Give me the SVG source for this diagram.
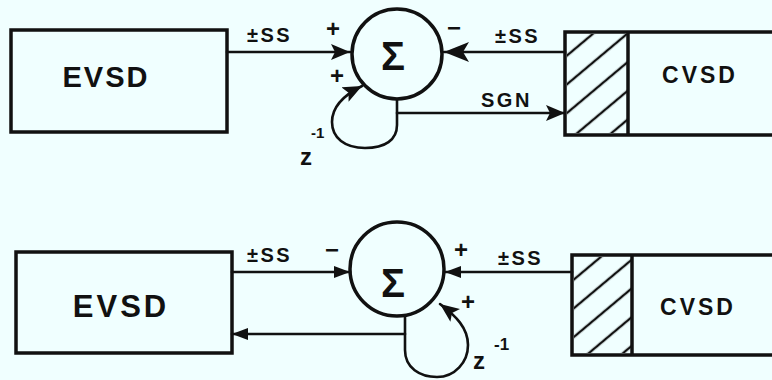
<svg xmlns="http://www.w3.org/2000/svg" width="772" height="380" viewBox="0 0 772 380">
<style>
.box{fill:none;stroke:#111;stroke-width:3.5}
.sum{fill:none;stroke:#111;stroke-width:3.5}
.wire{fill:none;stroke:#111;stroke-width:2.6;stroke-linecap:round}
.big{font-family:"Liberation Sans",Arial,sans-serif;font-weight:bold;fill:#111}
.lbl{font-family:"Liberation Sans",Arial,sans-serif;font-weight:bold;fill:#111;font-size:20px;letter-spacing:2.5px}
.sig{font-family:"Liberation Sans",Arial,sans-serif;font-weight:bold;fill:#111;font-size:24px}
.hatch{fill:url(#hatch)}
</style>
<defs>
<pattern id="hatch" patternUnits="userSpaceOnUse" width="22" height="22" patternTransform="rotate(-40)">
<line x1="0" y1="11" x2="22" y2="11" stroke="#111" stroke-width="2.4"/>
</pattern>
<marker id="ahBig" markerUnits="userSpaceOnUse" markerWidth="28" markerHeight="22" refX="25" refY="10" orient="auto">
<path d="M0,0 L25,10 L0,20 L6,10 Z" fill="#111"/>
</marker>
<marker id="ahMid" markerUnits="userSpaceOnUse" markerWidth="22" markerHeight="18" refX="19" refY="8" orient="auto">
<path d="M0,0 L19,8 L0,16 L4,8 Z" fill="#111"/>
</marker>
<marker id="ahSm" markerUnits="userSpaceOnUse" markerWidth="18" markerHeight="14" refX="16" refY="6" orient="auto">
<path d="M0,0 L16,6 L0,12 Z" fill="#111"/>
</marker>
</defs>
<rect width="772" height="380" fill="#f0ffff"/>

<!-- Top diagram -->
<g id="evsd1">
<rect class="box" x="11" y="30" width="216" height="102"/>
<text class="big" x="106" y="87" font-size="29" text-anchor="middle" letter-spacing="2">EVSD</text>
</g>
<g id="sum1">
<circle class="sum" cx="397" cy="54" r="45"/>
<text class="big" x="393" y="70" font-size="40" text-anchor="middle">Σ</text>
</g>
<g id="cvsd1">
<rect class="box" x="565" y="32" width="230" height="103"/>
<rect class="hatch" x="567" y="34" width="60" height="99"/>
<line class="box" x1="628" y1="32" x2="628" y2="135"/>
<text class="big" x="700" y="83" font-size="23" text-anchor="middle" letter-spacing="3">CVSD</text>
</g>

<!-- Bottom diagram -->
<g id="evsd2">
<rect class="box" x="16" y="252" width="216" height="101"/>
<text class="big" x="121" y="317" font-size="31" text-anchor="middle" letter-spacing="3">EVSD</text>
</g>
<g id="sum2">
<circle class="sum" cx="397" cy="269" r="47"/>
<text class="big" x="393" y="297" font-size="40" text-anchor="middle">Σ</text>
</g>
<g id="cvsd2">
<rect class="box" x="572" y="255" width="230" height="100"/>
<rect class="hatch" x="574" y="257" width="57" height="96"/>
<line class="box" x1="632" y1="255" x2="632" y2="355"/>
<text class="big" x="698" y="315" font-size="23" text-anchor="middle" letter-spacing="3">CVSD</text>
</g>

<g id="connectors">
<path class="wire" d="M227,52 H350" marker-end="url(#ahMid)"/>
<path class="wire" d="M565,52 H444" marker-end="url(#ahBig)"/>
<path class="wire" d="M397,99 V125 C397,140 385,148 365,148 C345,148 332,138 332,122 C332,106 344,95 362,86" marker-end="url(#ahMid)"/>
<path class="wire" d="M397,113 H565" marker-end="url(#ahMid)"/>
<path class="wire" d="M232,272 H350" marker-end="url(#ahSm)"/>
<path class="wire" d="M572,272 H445" marker-end="url(#ahSm)"/>
<path class="wire" d="M405,316 V350 C405,368 420,377 437,377 C455,377 468,362 468,345 C468,328 456,316 440,304" marker-end="url(#ahMid)"/>
<path class="wire" d="M405,334 H232" marker-end="url(#ahSm)"/>
</g>

<g id="labels">
<text class="lbl" x="247" y="42">±SS</text>
<text class="sig" x="333" y="37" text-anchor="middle">+</text>
<text class="sig" x="337" y="84" text-anchor="middle">+</text>
<text class="sig" x="454" y="36" text-anchor="middle">−</text>
<text class="lbl" x="495" y="43">±SS</text>
<text class="lbl" x="481" y="107">SGN</text>
<text class="big" x="300" y="165" font-size="24">z</text>
<text class="big" x="311" y="138" font-size="15">-1</text>
<text class="lbl" x="247" y="262">±SS</text>
<text class="sig" x="332" y="258" text-anchor="middle">−</text>
<text class="sig" x="461" y="258" text-anchor="middle">+</text>
<text class="sig" x="468" y="310" text-anchor="middle">+</text>
<text class="lbl" x="498" y="265">±SS</text>
<text class="big" x="473" y="369" font-size="24">z</text>
<text class="big" x="494" y="350" font-size="17">-1</text>
</g>
</svg>
